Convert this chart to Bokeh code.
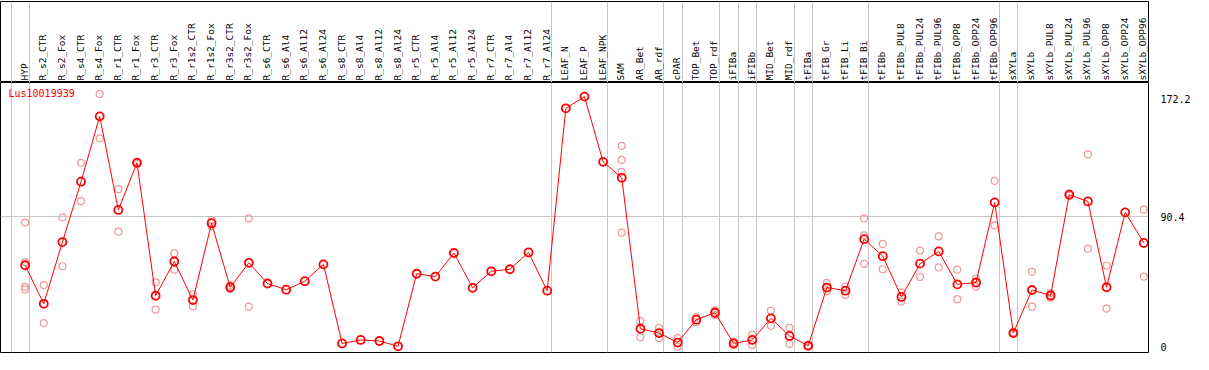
import numpy as np
from bokeh.plotting import figure
from bokeh.layouts import column
from bokeh.models import Range1d, FixedTicker, Grid, Label
from bokeh.embed import file_html
from bokeh.resources import INLINE
from bokeh.core.properties import value

gene_id = "Lus10019939"

categories = [
    "HYP", "R_s2_CTR", "R_s2_Fox", "R_s4_CTR", "R_s4_Fox", "R_r1_CTR", "R_r1_Fox",
    "R_r3_CTR", "R_r3_Fox", "R_r1s2_CTR", "R_r1s2_Fox", "R_r3s2_CTR", "R_r3s2_Fox",
    "R_s6_CTR", "R_s6_Al4", "R_s6_Al12", "R_s6_Al24", "R_s8_CTR", "R_s8_Al4",
    "R_s8_Al12", "R_s8_Al24", "R_r5_CTR", "R_r5_Al4", "R_r5_Al12", "R_r5_Al24",
    "R_r7_CTR", "R_r7_Al4", "R_r7_Al12", "R_r7_Al24", "LEAF_N", "LEAF_P", "LEAF_NPK",
    "SAM", "AR_Bet", "AR_rdf", "cPAR", "TOP_Bet", "TOP_rdf", "iFIBa", "iFIBb",
    "MID_Bet", "MID_rdf", "tFIBa", "tFIB_Gr", "tFIB_Li", "tFIB_Bi", "tFIBb",
    "tFIBb_PUL8", "tFIBb_PUL24", "tFIBb_PUL96", "tFIBb_OPP8", "tFIBb_OPP24",
    "tFIBb_OPP96", "sXYLa", "sXYLb", "sXYLb_PUL8", "sXYLb_PUL24", "sXYLb_PUL96",
    "sXYLb_OPP8", "sXYLb_OPP24", "sXYLb_OPP96",
]

means = [
    56.6, 29.8, 72.7, 114.6, 160.0, 95.0, 127.7, 35.4, 59.2, 32.4, 85.8, 41.3, 58.3,
    43.9, 39.6, 45.5, 57.2, 2.3, 4.7, 4.0, 0.3, 50.7, 48.7, 65.1, 40.9,
    52.4, 53.8, 65.5, 38.9, 165.6, 173.7, 128.4,
    117.3, 12.5, 9.5, 2.9, 18.8, 23.6, 2.3, 4.7,
    19.7, 7.5, 0.7, 41.1, 38.9, 74.7, 62.9,
    34.6, 57.7, 66.2, 43.3, 44.6,
    100.2, 9.5, 39.4, 35.6, 105.6, 100.9,
    41.3, 93.3, 72.1,
]

replicates = [
    [86.2, 58.8, 41.6, 39.8], [42.8, 16.4], [89.8, 55.9], [127.7, 101.1],
    [175.5, 144.7], [109.4, 79.9], [126.9, 128.5], [44.7, 25.8], [64.9, 53.5],
    [36.3, 28.2], [88.0, 83.6], [42.6, 40.0], [89.1, 27.8],
    [], [], [], [], [], [], [], [], [], [], [], [], [], [], [], [],
    [], [], [],
    [139.5, 129.7, 121.4, 79.3], [18.0, 6.6], [13.0, 6.0], [6.0, 0.0],
    [20.6, 17.0], [25.3, 21.9], [3.4, 1.2], [8.4, 1.2],
    [25.0, 14.5], [13.2, 2.0], [1.0, 0.4], [44.4, 38.5], [41.8, 36.0],
    [89.1, 77.3, 57.6], [71.4, 53.8],
    [37.8, 31.3], [66.8, 48.5], [76.7, 55.1], [53.5, 33.0], [47.4, 41.8],
    [115.2, 84.3], [10.0, 9.0], [52.0, 27.8], [37.2, 34.1], [104.9, 106.3],
    [133.6, 68.1], [56.4, 26.5], [], [95.2, 48.7],
]

group_sizes = [1, 28, 3, 3, 1, 2, 1, 1, 2, 1, 3, 7, 1, 7]

y_ticks = [0, 90.4, 172.2]
y_tick_labels = ["0", "90.4", "172.2"]

# ---- derived ----
idx = list(range(len(categories)))
ends = np.cumsum(group_sizes) - 1
seps = [-0.75] + [float(e) + 0.25 for e in ends]
rep_x = [i for i, r in enumerate(replicates) for _ in r]
rep_y = [v for r in replicates for v in r]

W = 1193
RIGHT = 38
GRID = "#C8C8C8"
RED = "#FF0000"
PINK = "#F09696"
MONO = "DejaVu Sans Mono"

x_range = Range1d(-1.32, len(categories) - 0.75)

# ---- label strip ----
top = figure(width=W, height=82, x_range=x_range, y_range=Range1d(0, 1),
             x_axis_location=None, y_axis_location=None,
             toolbar_location=None, output_backend="svg",
             min_border=0, min_border_right=RIGHT, min_border_top=1)
top.grid.visible = False
top.outline_line_color = "black"
top.add_layout(Grid(dimension=0, ticker=FixedTicker(ticks=seps),
                    grid_line_color=GRID, grid_line_width=1))
top.text(x=idx, y=[0] * len(idx), text=categories, angle=np.pi / 2,
         text_align="left", text_baseline="middle",
         text_font=value(MONO), text_font_size="9.5px", text_color="black",
         x_offset=-1, y_offset=-2)

# ---- data panel ----
bot = figure(width=W, height=272, x_range=x_range, y_range=Range1d(-4.0, 183.5),
             x_axis_location=None, y_axis_location="right",
             toolbar_location=None, output_backend="svg",
             min_border=0, min_border_right=RIGHT, min_border_bottom=2)
bot.grid.visible = False
bot.outline_line_color = "black"
bot.add_layout(Grid(dimension=0, ticker=FixedTicker(ticks=seps),
                    grid_line_color=GRID, grid_line_width=1))
bot.add_layout(Grid(dimension=1, ticker=FixedTicker(ticks=[y_ticks[1]]),
                    grid_line_color=GRID, grid_line_width=1))

ax = bot.yaxis[0]
ax.ticker = FixedTicker(ticks=y_ticks)
ax.major_label_overrides = dict(zip(y_ticks, y_tick_labels))
ax.axis_line_color = None
ax.major_tick_line_color = None
ax.minor_tick_line_color = None
ax.major_label_text_font = MONO
ax.major_label_text_font_size = "10px"
ax.major_label_text_color = "black"
ax.major_label_standoff = 6

bot.scatter(rep_x, rep_y, marker="circle", size=7, fill_color=None,
            line_color=PINK, line_width=1.2)
bot.line(idx, means, line_color=RED, line_width=1)
bot.scatter(idx, means, marker="circle", size=8, fill_color=None,
            line_color=RED, line_width=1.8)

bot.add_layout(Label(x=x_range.start, y=bot.y_range.end, text=gene_id,
                     text_color=RED, text_font=MONO, text_font_size="10px",
                     text_baseline="top", x_offset=8, y_offset=-5))

layout = column(top, bot)
open("out.html", "w").write(file_html(layout, INLINE))
